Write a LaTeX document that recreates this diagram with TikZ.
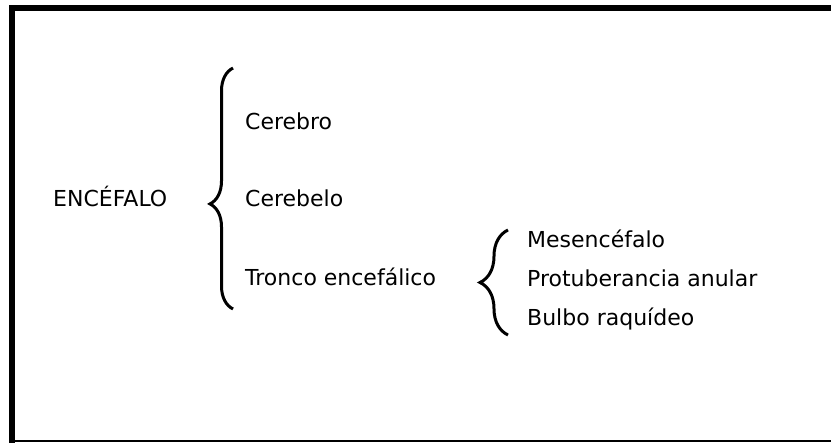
\documentclass[tikz,border=0pt]{standalone}
\usepackage{fontspec}
\setmainfont{DejaVu Sans}
\usetikzlibrary{decorations.pathreplacing}
\tikzstyle{term} = [inner sep=0pt, anchor=base west, font=\fontsize{22}{26}\selectfont]
\tikzstyle{curly} = [draw, line width=3pt, decorate]
\tikzstyle{bigcurly} = [curly, decoration={brace, amplitude=23pt, aspect=0.436}]
\tikzstyle{smallcurly} = [curly, decoration={brace, amplitude=28pt, aspect=0.5}]

\begin{document}
\begin{tikzpicture}[x=1pt, y=-1pt]
        \useasboundingbox (0,0) rectangle (831,443);

        % Frame (right side runs off the page)
        \draw [line width=6pt] (12,443) -- (12,8) -- (831,8);
        \draw [line width=2pt] (9,441.5) -- (831,441.5);

        % Nodes - main term and its parts
        \node (encefalo) [term] at (53,207) {ENCÉFALO};
        \node (cerebro) [term] at (245,130) {Cerebro};
        \node (cerebelo) [term] at (245,207) {Cerebelo};
        \node (tronco) [term] at (245,286) {Tronco encefálico};

        % Nodes - parts of the brainstem
        \node (mesen) [term] at (527,248) {Mesencéfalo};
        \node (protub) [term] at (527,287) {Protuberancia anular};
        \node (bulbo) [term] at (527,326) {Bulbo raquídeo};

        % Braces
        \coordinate (b1top) at (233,68);
        \coordinate (b1bot) at (233,309);
        \draw [bigcurly] (b1bot) -- (b1top);

        \coordinate (b2top) at (508,230);
        \coordinate (b2bot) at (508,335);
        \draw [smallcurly] (b2bot) -- (b2top);

    \end{tikzpicture}
\end{document}
